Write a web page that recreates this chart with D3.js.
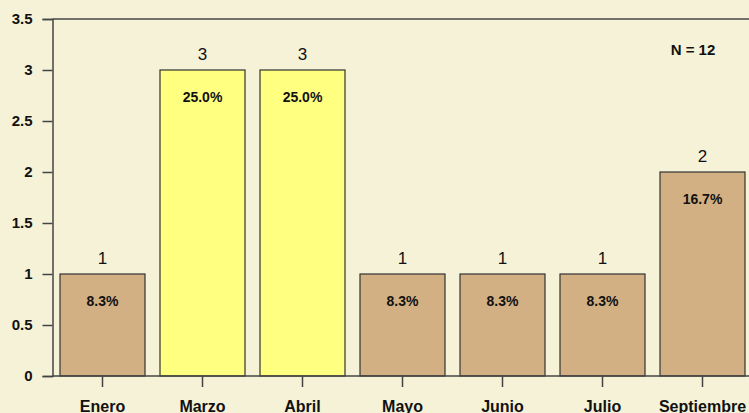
<!DOCTYPE html>
<html>
<head>
<meta charset="utf-8">
<script src="https://cdn.jsdelivr.net/npm/d3@7"></script>
<style>
  body { margin: 0; background: #f5f2d8; }
  svg { display: block; font-family: "Liberation Sans", Arial, sans-serif; }
</style>
</head>
<body>
<div class="chart"></div>
<script>
var months = ["Enero", "Marzo", "Abril", "Mayo", "Junio", "Julio", "Septiembre"];
var counts = [1, 3, 3, 1, 1, 1, 2];
var percents = ["8.3%", "25.0%", "25.0%", "8.3%", "8.3%", "8.3%", "16.7%"];
var highlight = [false, true, true, false, false, false, false];
var yTicks = [0, 0.5, 1, 1.5, 2, 2.5, 3, 3.5];
var total = 12;

var svgWidth = 749;
var svgHeight = 413;

var svg = d3.select(".chart")
    .append("svg")
    .attr("width", svgWidth)
    .attr("height", svgHeight);

svg.append("rect")
    .attr("width", svgWidth)
    .attr("height", svgHeight)
    .attr("fill", "#f5f2d8");

var x = d3.scaleBand()
    .domain(months)
    .range([52.5, 752.5])
    .paddingInner(0.15)
    .paddingOuter(0.075);

var y = d3.scaleLinear()
    .domain([0, 3.5])
    .range([376, 19]);

// top frame line
svg.append("line")
    .attr("x1", 52.5).attr("x2", svgWidth)
    .attr("y1", y(3.5)).attr("y2", y(3.5))
    .attr("stroke", "#444").attr("stroke-width", 1.5);

// bars
var data = months.map((m, i) => ({ m: m, c: counts[i], p: percents[i], h: highlight[i] }));

svg.append("g").selectAll("rect")
    .data(data)
    .enter()
    .append("rect")
    .attr("x", d => x(d.m))
    .attr("y", d => y(d.c))
    .attr("width", x.bandwidth())
    .attr("height", d => y(0) - y(d.c))
    .attr("fill", d => d.h ? "#ffff80" : "#d2b084")
    .attr("stroke", "#333")
    .attr("stroke-width", 1.2);

// y axis
var leftAxis = d3.axisLeft(y)
    .tickValues(yTicks)
    .tickFormat(d3.format("~g"))
    .tickSize(10)
    .tickPadding(10);

var gy = svg.append("g")
    .attr("transform", "translate(52.5,0)")
    .call(leftAxis);
gy.select(".domain").attr("stroke", "#444").attr("stroke-width", 1.5);
gy.selectAll(".tick line").attr("stroke", "#444").attr("stroke-width", 1.5);
gy.selectAll(".tick text")
    .attr("font-size", 15)
    .attr("font-weight", "bold")
    .attr("fill", "#111")
    .attr("font-family", "Liberation Sans, Arial, sans-serif");

// x axis
var bottomAxis = d3.axisBottom(x)
    .tickSize(11)
    .tickSizeOuter(0)
    .tickPadding(14);

var gx = svg.append("g")
    .attr("transform", "translate(0,376)")
    .call(bottomAxis);
gx.select(".domain").attr("d", "M52.5,0H" + svgWidth).attr("stroke", "#444").attr("stroke-width", 1.5);
gx.selectAll(".tick line").attr("stroke", "#444").attr("stroke-width", 1.5);
gx.selectAll(".tick text")
    .attr("font-size", 16)
    .attr("font-weight", "bold")
    .attr("fill", "#111")
    .attr("font-family", "Liberation Sans, Arial, sans-serif");

// counts above bars
svg.append("g").selectAll("text")
    .data(data)
    .enter()
    .append("text")
    .attr("x", d => x(d.m) + x.bandwidth() / 2)
    .attr("y", d => y(d.c) - 10)
    .attr("text-anchor", "middle")
    .attr("font-size", 17)
    .attr("fill", "#111")
    .text(d => d.c);

// percents inside bars
svg.append("g").selectAll("text")
    .data(data)
    .enter()
    .append("text")
    .attr("x", d => x(d.m) + x.bandwidth() / 2)
    .attr("y", d => y(d.c) + 32)
    .attr("text-anchor", "middle")
    .attr("font-size", 14)
    .attr("font-weight", "bold")
    .attr("fill", "#111")
    .text(d => d.p);

svg.append("text")
    .attr("x", 693)
    .attr("y", 55)
    .attr("text-anchor", "middle")
    .attr("font-size", 15)
    .attr("font-weight", "bold")
    .attr("fill", "#111")
    .text("N = " + total);
</script>
</body>
</html>
